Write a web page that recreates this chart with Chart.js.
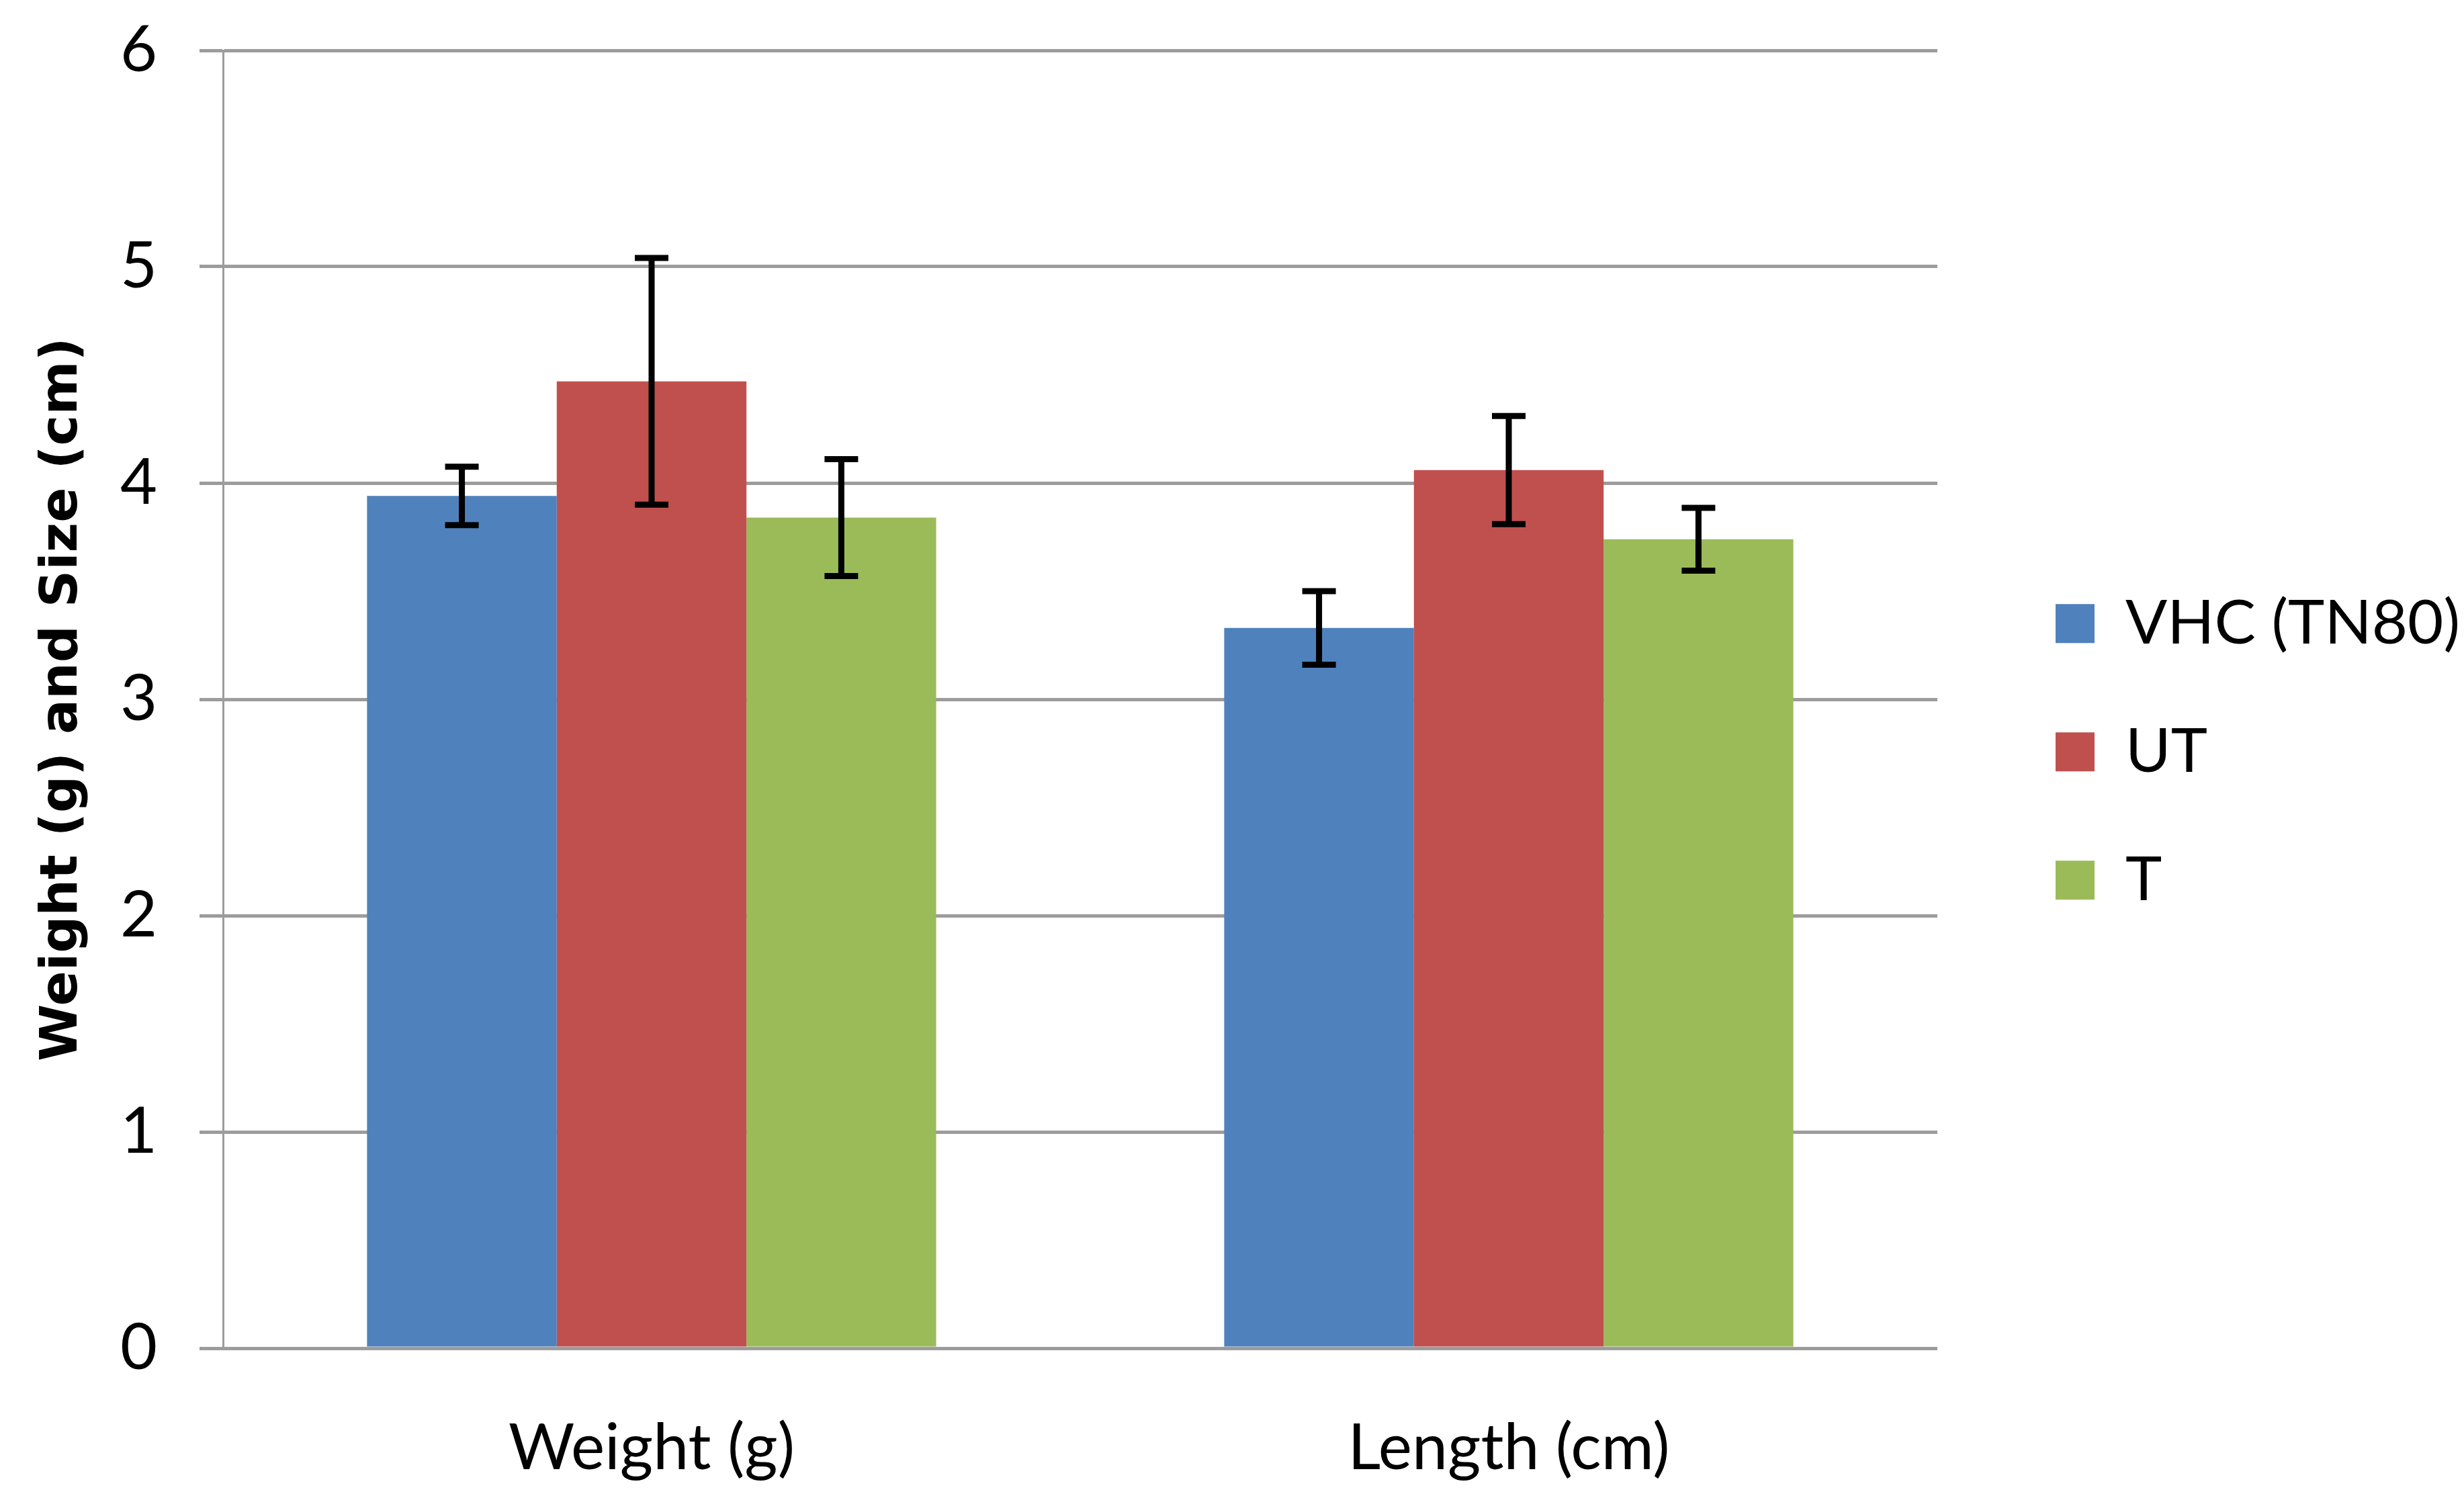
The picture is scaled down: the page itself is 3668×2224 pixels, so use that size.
<!DOCTYPE html>
<html>
<head>
<meta charset="utf-8">
<script src="https://cdn.jsdelivr.net/npm/chart.js@4.4.1/dist/chart.umd.min.js"></script>
<style>
  html, body { margin: 0; padding: 0; background: #fff; }
  canvas { display: block; }
</style>
</head>
<body>
<canvas id="myChart" width="3668" height="2224" style="width:3668px;height:2224px"></canvas>
<script>
// values
const categories = ['Weight (g)', 'Length (cm)'];
const seriesNames = ['VHC (TN80)', 'UT', 'T'];
const vhcValues = [3.94, 3.33];
const utValues = [4.47, 4.06];
const tValues = [3.84, 3.74];
const vhcErr = [0.135, 0.17];
const utErr = [0.57, 0.25];
const tErr = [0.27, 0.145];
const yTicks = [0, 1, 2, 3, 4, 5, 6];

const colors = ['#4F81BD', '#C0504D', '#9BBB59'];
const errors = [vhcErr, utErr, tErr];

// draws the black error bars on top of every bar
const errorBars = {
    id: 'errorBars',
    afterDatasetsDraw(chart) {
        const ctx = chart.ctx;
        const yScale = chart.scales.y;
        ctx.save();
        ctx.strokeStyle = '#000';
        ctx.lineWidth = 9;
        chart.data.datasets.forEach((ds, i) => {
            const meta = chart.getDatasetMeta(i);
            meta.data.forEach((bar, j) => {
                const v = ds.data[j];
                const e = errors[i][j];
                const yTop = yScale.getPixelForValue(v + e);
                const yBot = yScale.getPixelForValue(v - e);
                const cap = 25;
                ctx.beginPath();
                ctx.moveTo(bar.x, yTop);
                ctx.lineTo(bar.x, yBot);
                ctx.moveTo(bar.x - cap, yTop);
                ctx.lineTo(bar.x + cap, yTop);
                ctx.moveTo(bar.x - cap, yBot);
                ctx.lineTo(bar.x + cap, yBot);
                ctx.stroke();
            });
        });
        ctx.restore();
    }
};

const tickFont = { family: 'Lato', size: 95 };
const legendFont = { family: 'Lato', size: 92 };

new Chart(document.getElementById('myChart').getContext('2d'), {
    type: 'bar',
    data: {
        labels: categories,
        datasets: [
            { label: seriesNames[0], data: vhcValues, backgroundColor: colors[0] },
            { label: seriesNames[1], data: utValues, backgroundColor: colors[1] },
            { label: seriesNames[2], data: tValues, backgroundColor: colors[2] }
        ]
    },
    options: {
        responsive: false,
        devicePixelRatio: 1,
        animation: false,
        layout: { padding: { top: 75, left: 0, right: 0, bottom: 0 } },
        datasets: { bar: { categoryPercentage: 0.664, barPercentage: 1.0, borderWidth: 0 } },
        scales: {
            x: {
                grid: { display: false, drawTicks: false },
                border: { display: false },
                ticks: { color: '#000', font: tickFont, padding: 92 },
                afterFit: (s) => { s.height = 217; }
            },
            y: {
                min: 0,
                max: 6,
                afterBuildTicks: (s) => { s.ticks = yTicks.map(v => ({ value: v })); },
                grid: { color: '#9c9c9c', lineWidth: 5, tickLength: 35 },
                border: { display: true, color: '#9c9c9c', width: 3 },
                ticks: { color: '#000', font: tickFont, padding: 63 },
                title: {
                    display: true,
                    text: 'Weight (g) and Size (cm)',
                    color: '#000',
                    font: { family: 'DejaVu Sans', weight: 'bold', size: 77 },
                    padding: { top: 48, bottom: 0 }
                },
                afterFit: (s) => { s.width = 332; s.paddingTop = 40; s.paddingBottom = 40; }
            },
            gap: {
                type: 'linear',
                position: 'right',
                display: true,
                grid: { display: false, drawTicks: false },
                border: { display: false },
                ticks: { display: false },
                afterFit: (s) => { s.width = 77; }
            }
        },
        plugins: {
            tooltip: { enabled: false },
            legend: {
                position: 'right',
                align: 'start',
                maxWidth: 707,
                title: { display: true, text: '', font: { size: 1 }, padding: { top: 707, bottom: 0 } },
                labels: {
                    color: '#000',
                    font: legendFont,
                    boxWidth: 58,
                    boxHeight: 58,
                    padding: 99
                }
            }
        }
    },
    plugins: [errorBars]
});
</script>
</body>
</html>
